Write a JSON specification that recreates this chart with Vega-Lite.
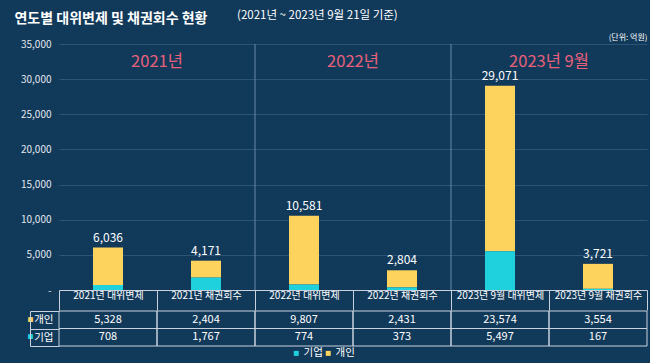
{
  "$schema": "https://vega.github.io/schema/vega-lite/v6.json",
  "background": "#11395a",
  "padding": {"left": 14, "top": 9, "right": 8, "bottom": 4},
  "spacing": -6,
  "title": {"text": "연도별 대위변제 및 채권회수 현황", "anchor": "start", "fontSize": 14, "fontWeight": "bold", "color": "#ffffff", "font": "Noto Sans CJK KR", "dx": -6, "offset": -16},
  "config": {"font": "Noto Sans CJK KR", "view": {"stroke": null}},
  "data": {"values": [
    {"항목": "2021년 대위변제", "구분": "개인", "금액": 5328},
    {"항목": "2021년 대위변제", "구분": "기업", "금액": 708},
    {"항목": "2021년 채권회수", "구분": "개인", "금액": 2404},
    {"항목": "2021년 채권회수", "구분": "기업", "금액": 1767},
    {"항목": "2022년 대위변제", "구분": "개인", "금액": 9807},
    {"항목": "2022년 대위변제", "구분": "기업", "금액": 774},
    {"항목": "2022년 채권회수", "구분": "개인", "금액": 2431},
    {"항목": "2022년 채권회수", "구분": "기업", "금액": 373},
    {"항목": "2023년 9월 대위변제", "구분": "개인", "금액": 23574},
    {"항목": "2023년 9월 대위변제", "구분": "기업", "금액": 5497},
    {"항목": "2023년 9월 채권회수", "구분": "개인", "금액": 3554},
    {"항목": "2023년 9월 채권회수", "구분": "기업", "금액": 167}
  ]},
  "vconcat": [
    {
      "width": 588,
      "height": 246,
      "title": {"text": "(2021년 ~ 2023년 9월 21일 기준)", "anchor": "start", "fontSize": 11.5, "fontWeight": "normal", "color": "#ffffff", "frame": "group", "dx": 178, "offset": 12},
      "layer": [
        {
          "data": {"values": [{"항목": "2022년 대위변제"}, {"항목": "2023년 9월 대위변제"}]},
          "mark": {"type": "rule", "color": "#5d7d9c", "strokeWidth": 1.2},
          "encoding": {"x": {"field": "항목", "type": "nominal", "bandPosition": 0}}
        },
        {
          "mark": {"type": "bar", "size": 30},
          "encoding": {
            "x": {"field": "항목", "type": "nominal",
              "scale": {"domain": ["2021년 대위변제", "2021년 채권회수", "2022년 대위변제", "2022년 채권회수", "2023년 9월 대위변제", "2023년 9월 채권회수"], "paddingInner": 0, "paddingOuter": 0},
              "axis": {"title": null, "orient": "bottom", "bandPosition": 0.5, "labelAngle": 0, "labelAlign": "center", "domain": true, "domainColor": "#c9d2dc", "domainWidth": 1, "ticks": true, "tickBand": "extent", "tickSize": 20, "tickColor": "#c9d2dc", "labelPadding": -15, "labelColor": "#ffffff", "labelFontSize": 10, "labelFlush": false, "grid": false}},
            "y": {"field": "금액", "type": "quantitative",
              "scale": {"domain": [0, 35000], "nice": false},
              "axis": {"title": "(단위: 억원)", "titleAngle": 0, "titleX": 588, "titleY": -3, "titleAlign": "right", "titleBaseline": "bottom", "titleFontSize": 8, "titleFontWeight": "normal", "titleColor": "#ffffff",
                "values": [0, 5000, 10000, 15000, 20000, 25000, 30000, 35000],
                "labelExpr": "datum.value == 0 ? '-' : format(datum.value, ',')",
                "labelColor": "#e3e8ee", "labelFontSize": 10, "ticks": false, "domain": false, "gridColor": "#2c5478", "labelPadding": 8, "labelOverlap": false}},
            "color": {"field": "구분", "type": "nominal", "sort": ["기업", "개인"],
              "scale": {"domain": ["기업", "개인"], "range": ["#1fd1dc", "#fdd35e"]},
              "legend": {"title": null, "orient": "none", "legendX": 232, "legendY": 304, "direction": "horizontal", "symbolType": "square", "symbolSize": 25, "symbolStrokeWidth": 0, "labelColor": "#ffffff", "labelFontSize": 10.5, "labelOffset": 2, "columnPadding": 0}}
          }
        },
        {
          "mark": {"type": "text", "baseline": "bottom", "dy": -3, "fontSize": 12, "color": "#ffffff"},
          "encoding": {
            "x": {"field": "항목", "type": "nominal"},
            "y": {"aggregate": "sum", "field": "금액", "type": "quantitative",
              "axis": {"title": "(단위: 억원)", "titleAngle": 0, "titleX": 588, "titleY": -3, "titleAlign": "right", "titleBaseline": "bottom", "titleFontSize": 8, "titleFontWeight": "normal", "titleColor": "#ffffff",
                "values": [0, 5000, 10000, 15000, 20000, 25000, 30000, 35000],
                "labelExpr": "datum.value == 0 ? '-' : format(datum.value, ',')",
                "labelColor": "#e3e8ee", "labelFontSize": 10, "ticks": false, "domain": false, "gridColor": "#2c5478", "labelPadding": 8, "labelOverlap": false}},
            "text": {"aggregate": "sum", "field": "금액", "type": "quantitative", "format": ","}
          }
        },
        {
          "data": {"values": [{"항목": "2021년 채권회수", "연도": "2021년"}, {"항목": "2022년 채권회수", "연도": "2022년"}, {"항목": "2023년 9월 채권회수", "연도": "2023년 9월"}]},
          "mark": {"type": "text", "baseline": "middle", "fontSize": 16.5, "color": "#e8607a"},
          "encoding": {
            "x": {"field": "항목", "type": "nominal", "bandPosition": 0},
            "y": {"datum": 32440, "type": "quantitative",
              "axis": {"title": "(단위: 억원)", "titleAngle": 0, "titleX": 588, "titleY": -3, "titleAlign": "right", "titleBaseline": "bottom", "titleFontSize": 8, "titleFontWeight": "normal", "titleColor": "#ffffff",
                "values": [0, 5000, 10000, 15000, 20000, 25000, 30000, 35000],
                "labelExpr": "datum.value == 0 ? '-' : format(datum.value, ',')",
                "labelColor": "#e3e8ee", "labelFontSize": 10, "ticks": false, "domain": false, "gridColor": "#2c5478", "labelPadding": 8, "labelOverlap": false}},
            "text": {"field": "연도", "type": "nominal"}
          }
        }
      ]
    },
    {
      "width": 588,
      "height": 35,
      "layer": [
        {
          "mark": {"type": "rect", "fillOpacity": 0, "stroke": "#c9d2dc", "strokeWidth": 1},
          "encoding": {
            "x": {"field": "항목", "type": "nominal",
              "scale": {"domain": ["2021년 대위변제", "2021년 채권회수", "2022년 대위변제", "2022년 채권회수", "2023년 9월 대위변제", "2023년 9월 채권회수"], "paddingInner": 0, "paddingOuter": 0},
              "axis": null},
            "y": {"field": "구분", "type": "nominal",
              "scale": {"domain": ["개인", "기업"], "paddingInner": 0, "paddingOuter": 0},
              "axis": {"orient": "left", "offset": 29, "title": null, "domain": true, "domainColor": "#c9d2dc", "ticks": false, "grid": false,
                "labelExpr": "'■'", "labelColor": {"condition": {"test": "datum.value === '개인'", "value": "#fdd35e"}, "value": "#1fd1dc"},
                "labelFontSize": 6, "labelPadding": -3}}
          }
        },
        {
          "mark": {"type": "text", "fontSize": 11, "color": "#ffffff"},
          "encoding": {
            "x": {"field": "항목", "type": "nominal"},
            "y": {"field": "구분", "type": "nominal",
              "axis": {"orient": "left", "title": null, "domain": false, "ticks": true, "tickBand": "extent", "tickSize": 29, "tickColor": "#c9d2dc", "labelPadding": -23, "labelColor": "#ffffff", "labelFontSize": 10.5, "grid": false}},
            "text": {"field": "금액", "type": "quantitative", "format": ","}
          }
        }
      ],
      "resolve": {"axis": {"y": "independent"}}
    }
  ]
}
